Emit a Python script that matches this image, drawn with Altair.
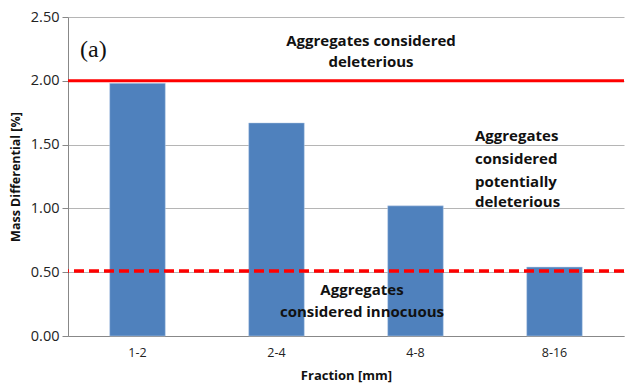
import altair as alt
import pandas as pd

fractions = ["1-2", "2-4", "4-8", "8-16"]
mass_diff = [1.98, 1.67, 1.02, 0.54]
deleterious_limit = 2.00
innocuous_limit = 0.51

bars_df = pd.DataFrame({"Fraction": fractions, "Value": mass_diff})
FONT = "Open Sans"

x_enc = alt.X("Fraction:N", sort=fractions, title="Fraction [mm]",
              scale=alt.Scale(paddingInner=0.6, paddingOuter=0.3),
              axis=alt.Axis(labelAngle=0, labelFont=FONT, labelFontSize=12.5,
                            labelColor="#222", titleFont=FONT, titleFontSize=13,
                            titleFontWeight="bold", titleColor="#111",
                            titlePadding=11, ticks=False, domainColor="#888",
                            labelPadding=10))
y_scale = alt.Scale(domain=[0, 2.5])

bars = alt.Chart(bars_df).mark_bar(color="#4f81bd", stroke="#c0d3ea", strokeWidth=0.5).encode(
    x=x_enc,
    y=alt.Y("Value:Q", scale=y_scale, title="Mass Differential [%]",
            axis=alt.Axis(values=[0, 0.5, 1.0, 1.5, 2.0, 2.5], format=".2f",
                          labelFont=FONT, labelFontSize=14.5, labelColor="#222",
                          titleFont=FONT, titleFontSize=12.5, titleFontWeight="bold",
                          titleColor="#111", titlePadding=8, gridColor="#b5b5b5",
                          gridWidth=1, domainColor="#888", tickColor="#888",
                          tickSize=6, labelPadding=3)),
)

lines_df = pd.DataFrame({"y": [deleterious_limit, innocuous_limit], "kind": ["solid", "dashed"]})
solid = alt.Chart(lines_df[lines_df.kind == "solid"]).mark_rule(color="#ff0000", strokeWidth=3).encode(
    y=alt.Y("y:Q", scale=y_scale))
dashed = alt.Chart(lines_df[lines_df.kind == "dashed"]).mark_rule(
    color="#ff0000", strokeWidth=3.5, strokeDash=[10, 5]).encode(y=alt.Y("y:Q", scale=y_scale))

label_a = pd.DataFrame({"t": ["(a)"], "y": [2.24]})
ann_a = alt.Chart(label_a).mark_text(font="Liberation Serif", fontSize=24, align="left",
                                     baseline="middle", color="#111").encode(
    x=alt.value(12), y=alt.Y("y:Q", scale=y_scale), text="t:N")

top_df = pd.DataFrame({"t": ["Aggregates considered", "deleterious"], "y": [2.31, 2.15]})
ann_top = alt.Chart(top_df).mark_text(font=FONT, fontSize=15, fontWeight="bold", align="center",
                                      baseline="middle", color="#111").encode(
    x=alt.value(303), y=alt.Y("y:Q", scale=y_scale), text="t:N")

mid_df = pd.DataFrame({"t": ["Aggregates", "considered", "potentially", "deleterious"],
                       "y": [1.565, 1.385, 1.21, 1.05]})
ann_mid = alt.Chart(mid_df).mark_text(font=FONT, fontSize=15, fontWeight="bold", align="left",
                                      baseline="middle", color="#111").encode(
    x=alt.value(407), y=alt.Y("y:Q", scale=y_scale), text="t:N")

low_df = pd.DataFrame({"t": ["Aggregates", "considered innocuous"], "y": [0.36, 0.19]})
ann_low = alt.Chart(low_df).mark_text(font=FONT, fontSize=15, fontWeight="bold", align="center",
                                      baseline="middle", color="#111").encode(
    x=alt.value(294), y=alt.Y("y:Q", scale=y_scale), text="t:N")

chart = alt.layer(bars, solid, dashed, ann_a, ann_top, ann_mid, ann_low).properties(
    width=556, height=319,
    autosize=alt.AutoSizeParams(type="none"),
    padding={"left": 68, "top": 17, "right": 1, "bottom": 50},
    background="white",
).configure_view(stroke=None)

chart.save("out.html", embed_options={"renderer": "svg", "actions": False})
